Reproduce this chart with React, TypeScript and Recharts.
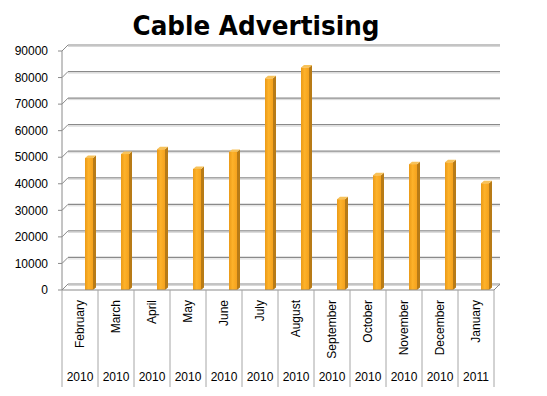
import React from "react";
import { BarChart, Bar, XAxis, YAxis, CartesianGrid } from "recharts";

const months = ["February", "March", "April", "May", "June", "July", "August", "September", "October", "November", "December", "January"];
const years = ["2010", "2010", "2010", "2010", "2010", "2010", "2010", "2010", "2010", "2010", "2010", "2011"];
const values = [49700, 51200, 53000, 45600, 52000, 79700, 83800, 34200, 43200, 47400, 48100, 40200];
const yTicks = [0, 10000, 20000, 30000, 40000, 50000, 60000, 70000, 80000, 90000];
const title = "Cable Advertising";

const data = months.map((m, i) => ({ month: m, year: years[i], value: values[i] }));

const W = 547;
const H = 396;
const M_TOP = 51;
const M_RIGHT = 53;
const Y_W = 62;
const X_H = 106;
const PLOT_LEFT = Y_W;
const PLOT_RIGHT = W - M_RIGHT;
const PLOT_BOTTOM = H - X_H;
const BAND = (PLOT_RIGHT - PLOT_LEFT) / months.length;
const DX = 6;
const DY = 6;
const FONT = "'Liberation Sans', Arial, sans-serif";
const GRID = "#8a8a8a";

const GridLine = (props: any) => {
  const { x1, x2, y1 } = props;
  const isBottom = Math.abs(y1 - PLOT_BOTTOM) < 1;
  return (
    <g key={props.key}>
      <line x1={x1} y1={y1} x2={x1 + DX} y2={y1 - DY} stroke={GRID} strokeWidth={1} />
      <line x1={x1 + DX} y1={y1 - DY} x2={x2 + DX} y2={y1 - DY} stroke={GRID} strokeWidth={1.2} />
      <line x1={x1 + DX} y1={y1 - DY + 1.5} x2={x2 + DX} y2={y1 - DY + 1.5} stroke="#d8d8d8" strokeWidth={1} />
      {isBottom && <line x1={x2 + DX} y1={y1 - DY} x2={x2} y2={y1} stroke={GRID} strokeWidth={1} />}
    </g>
  );
};

const YTick = (props: any) => {
  const { y, payload } = props;
  return (
    <text x={48} y={y} dy="0.35em" textAnchor="end" fontSize={12} fontFamily={FONT} fill="#000">
      {payload.value}
    </text>
  );
};

const XTick = (props: any) => {
  const { x, payload, index } = props;
  const yr = years[index];
  return (
    <g>
      {index === 0 && (
        <line x1={x - BAND / 2} y1={PLOT_BOTTOM} x2={x - BAND / 2} y2={PLOT_BOTTOM + 97} stroke="#a6a6a6" />
      )}
      <line x1={x + BAND / 2} y1={PLOT_BOTTOM} x2={x + BAND / 2} y2={PLOT_BOTTOM + 97} stroke="#a6a6a6" />
      <text
        x={x}
        y={PLOT_BOTTOM + 10}
        transform={`rotate(-90 ${x} ${PLOT_BOTTOM + 10})`}
        textAnchor="end"
        dy="0.35em"
        fontSize={12}
        fontFamily={FONT}
        fill="#000"
      >
        {payload.value}
      </text>
      <text x={x} y={PLOT_BOTTOM + 91} textAnchor="middle" fontSize={12} fontFamily={FONT} fill="#000">
        {yr}
      </text>
    </g>
  );
};

const BAR_SHIFT = 9;
const SIDE = 3;
const TOPD = 2.5;

const Bar3D = (props: any) => {
  const { x, y, width, height } = props;
  if (height == null || height <= 0) return null;
  const bx = x + BAR_SHIFT;
  const r = bx + width;
  return (
    <g>
      <polygon
        points={`${r},${y} ${r + SIDE},${y - TOPD} ${r + SIDE},${y + height - TOPD} ${r},${y + height}`}
        fill="#b87b16"
      />
      <polygon
        points={`${bx},${y} ${bx + SIDE},${y - TOPD} ${r + SIDE},${y - TOPD} ${r},${y}`}
        fill="#f7c25a"
      />
      <rect x={bx} y={y} width={width} height={height} fill="url(#barFront)" />
    </g>
  );
};

export default function App() {
  return (
    <div style={{ position: "absolute", left: 0, top: 0, width: W, height: H, background: "#fff" }}>
      <svg width={W} height={H} style={{ position: "absolute", left: 0, top: 0 }}>
        <defs>
          <linearGradient id="barFront" x1="0" y1="0" x2="1" y2="0">
            <stop offset="0%" stopColor="#eb9a17" />
            <stop offset="45%" stopColor="#fdb22a" />
            <stop offset="100%" stopColor="#f5a21d" />
          </linearGradient>
        </defs>
      </svg>
      <BarChart
        width={W}
        height={H}
        data={data}
        margin={{ top: M_TOP, right: M_RIGHT, bottom: 0, left: 0 }}
        style={{ position: "absolute", left: 0, top: 0 }}
      >
        <defs>
          <linearGradient id="barFront" x1="0" y1="0" x2="1" y2="0">
            <stop offset="0%" stopColor="#eb9a17" />
            <stop offset="45%" stopColor="#fdb22a" />
            <stop offset="100%" stopColor="#f5a21d" />
          </linearGradient>
        </defs>
        <CartesianGrid vertical={false} horizontal={GridLine as any} />
        <YAxis
          width={Y_W}
          domain={[0, 90000]}
          ticks={yTicks}
          interval={0}
          tickSize={4}
          tick={<YTick />}
          tickLine={{ stroke: GRID }}
          axisLine={{ stroke: GRID }}
        />
        <XAxis
          dataKey="month"
          height={X_H}
          interval={0}
          tickLine={false}
          tick={<XTick />}
          axisLine={{ stroke: GRID }}
        />
        <Bar dataKey="value" barSize={8} shape={<Bar3D />} isAnimationActive={false} />
      </BarChart>
      <svg width={W} height={50} style={{ position: "absolute", left: 0, top: 0 }}>
        <text
          x={256}
          y={35}
          textAnchor="middle"
          fontSize={27}
          fontWeight="bold"
          fontFamily="'DejaVu Sans', sans-serif"
          textLength={247}
          lengthAdjust="spacingAndGlyphs"
          fill="#000"
        >
          {title}
        </text>
      </svg>
    </div>
  );
}
